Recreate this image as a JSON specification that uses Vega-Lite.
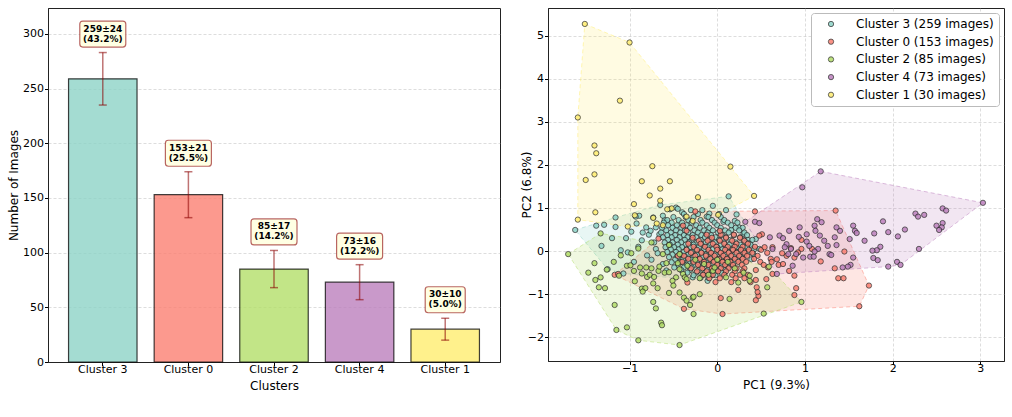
{
  "$schema": "https://vega.github.io/schema/vega-lite/v6.json",
  "padding": {"left": 6, "top": 7, "right": 8, "bottom": 5},
  "spacing": 18,
  "config": {
    "font": "DejaVu Sans",
    "view": {"stroke": "#222", "strokeWidth": 1},
    "axis": {
      "labelFont": "DejaVu Sans", "labelFontSize": 11, "labelColor": "#000",
      "titleFont": "DejaVu Sans", "titleFontSize": 12, "titleFontWeight": "normal", "titleColor": "#000",
      "tickColor": "#000", "tickSize": 3.5, "labelPadding": 1, "domainColor": "#222",
      "gridColor": "#b0b0b0", "gridOpacity": 0.55, "gridDash": [3, 2], "gridWidth": 0.8
    },
    "axisX": {"labelPadding": -2, "titlePadding": 6}
  },
  "resolve": {"scale": {"fill": "independent", "stroke": "independent", "color": "independent", "x": "independent", "y": "independent"}},
  "datasets": {
    "bars": [
      {"cluster": "Cluster 3", "count": 259, "err": 24, "label": ["259±24", "(43.2%)"]},
      {"cluster": "Cluster 0", "count": 153, "err": 21, "label": ["153±21", "(25.5%)"]},
      {"cluster": "Cluster 2", "count": 85, "err": 17, "label": ["85±17", "(14.2%)"]},
      {"cluster": "Cluster 4", "count": 73, "err": 16, "label": ["73±16", "(12.2%)"]},
      {"cluster": "Cluster 1", "count": 30, "err": 10, "label": ["30±10", "(5.0%)"]}
    ],
    "hulls": [
      {"grp": "hull 3", "i": 0, "x": -1.62, "y": 0.49}, {"grp": "hull 3", "i": 1, "x": -1.16, "y": 0.78}, {"grp": "hull 3", "i": 2, "x": -0.65, "y": 1.07}, {"grp": "hull 3", "i": 3, "x": 0.13, "y": 1.27}, {"grp": "hull 3", "i": 4, "x": 0.44, "y": 0.28}, {"grp": "hull 3", "i": 5, "x": 0.48, "y": 0.05}, {"grp": "hull 3", "i": 6, "x": 0.39, "y": -0.19}, {"grp": "hull 3", "i": 7, "x": -0.11, "y": -0.69}, {"grp": "hull 3", "i": 8, "x": -1.07, "y": -0.52}, {"grp": "hull 3", "i": 9, "x": -1.25, "y": -0.42},
      {"grp": "hull 0", "i": 0, "x": -1.17, "y": -0.55}, {"grp": "hull 0", "i": 1, "x": -0.67, "y": 0.29}, {"grp": "hull 0", "i": 2, "x": -0.25, "y": 0.92}, {"grp": "hull 0", "i": 3, "x": 1.35, "y": 0.94}, {"grp": "hull 0", "i": 4, "x": 1.73, "y": -0.80}, {"grp": "hull 0", "i": 5, "x": 1.62, "y": -1.28}, {"grp": "hull 0", "i": 6, "x": 0.06, "y": -1.46}, {"grp": "hull 0", "i": 7, "x": -0.38, "y": -1.34},
      {"grp": "hull 2", "i": 0, "x": -1.70, "y": -0.07}, {"grp": "hull 2", "i": 1, "x": -1.33, "y": 0.41}, {"grp": "hull 2", "i": 2, "x": -0.55, "y": 0.14}, {"grp": "hull 2", "i": 3, "x": 0.59, "y": -0.36}, {"grp": "hull 2", "i": 4, "x": 0.96, "y": -1.18}, {"grp": "hull 2", "i": 5, "x": -0.43, "y": -2.18}, {"grp": "hull 2", "i": 6, "x": -0.90, "y": -2.07}, {"grp": "hull 2", "i": 7, "x": -1.15, "y": -1.83},
      {"grp": "hull 4", "i": 0, "x": 1.18, "y": 1.85}, {"grp": "hull 4", "i": 1, "x": 3.03, "y": 1.12}, {"grp": "hull 4", "i": 2, "x": 2.09, "y": -0.32}, {"grp": "hull 4", "i": 3, "x": 1.95, "y": -0.36}, {"grp": "hull 4", "i": 4, "x": 0.68, "y": -0.53}, {"grp": "hull 4", "i": 5, "x": 0.32, "y": 0.68},
      {"grp": "hull 1", "i": 0, "x": -1.51, "y": 5.27}, {"grp": "hull 1", "i": 1, "x": -1.00, "y": 4.84}, {"grp": "hull 1", "i": 2, "x": 0.42, "y": 1.28}, {"grp": "hull 1", "i": 3, "x": 0.01, "y": 0.84}, {"grp": "hull 1", "i": 4, "x": -0.28, "y": 0.70}, {"grp": "hull 1", "i": 5, "x": -0.62, "y": 0.60}, {"grp": "hull 1", "i": 6, "x": -1.02, "y": 0.57}, {"grp": "hull 1", "i": 7, "x": -1.59, "y": 0.73}, {"grp": "hull 1", "i": 8, "x": -1.59, "y": 3.10}
    ],
    "pts": [
      {"k":"3","x":-1.62,"y":0.49},{"k":"3","x":-1.16,"y":0.78},{"k":"3","x":-0.65,"y":1.07},{"k":"3","x":0.13,"y":1.27},{"k":"3","x":0.44,"y":0.28},{"k":"3","x":0.48,"y":0.05},{"k":"3","x":0.39,"y":-0.19},{"k":"3","x":-0.11,"y":-0.69},{"k":"3","x":-1.07,"y":-0.52},{"k":"3","x":-1.25,"y":-0.42},
      {"k":"3","x":-1.38,"y":0.59},{"k":"3","x":-1.29,"y":0.61},{"k":"3","x":-1.32,"y":0.12},{"k":"3","x":-1.16,"y":0.56},{"k":"3","x":-1.04,"y":0.30},{"k":"3","x":-1.02,"y":-0.03},{"k":"3","x":-0.92,"y":0.64},{"k":"3","x":-0.73,"y":0.78},{"k":"3","x":-0.85,"y":0.43},{"k":"3","x":-0.66,"y":0.39},
      {"k":"3","x":-0.54,"y":0.97},{"k":"3","x":-0.47,"y":1.01},{"k":"3","x":-0.45,"y":0.98},{"k":"3","x":-0.89,"y":0.82},{"k":"3","x":-0.93,"y":0.80},{"k":"3","x":-0.98,"y":0.45},{"k":"3","x":-0.78,"y":0.38},{"k":"3","x":-0.76,"y":0.47},{"k":"3","x":-0.81,"y":0.55},{"k":"3","x":-0.17,"y":0.95},
      {"k":"3","x":-0.30,"y":0.95},{"k":"3","x":-0.09,"y":0.87},{"k":"3","x":0.07,"y":0.68},{"k":"3","x":0.16,"y":0.49},{"k":"3","x":0.35,"y":0.26},{"k":"3","x":0.37,"y":0.18},{"k":"3","x":0.41,"y":-0.07},{"k":"3","x":-0.28,"y":-0.61},{"k":"3","x":-0.62,"y":-0.30},{"k":"3","x":0.20,"y":0.70},
      {"k":"3","x":0.25,"y":0.55},{"k":"3","x":-0.90,"y":0.10},{"k":"3","x":-0.70,"y":0.55},{"k":"3","x":-0.60,"y":0.72},{"k":"3","x":-0.62,"y":0.82},{"k":"3","x":-1.20,"y":0.30},{"k":"3","x":-0.95,"y":-0.25},{"k":"3","x":-0.80,"y":-0.10},{"k":"3","x":-0.70,"y":0.05},{"k":"3","x":-0.72,"y":0.20},
      {"k":"3","x":-1.10,"y":0.02},{"k":"3","x":-0.86,"y":0.25},{"k":"3","x":-0.40,"y":0.90},{"k":"3","x":-0.12,"y":0.80},{"k":"3","x":0.10,"y":0.95},{"k":"3","x":-0.05,"y":1.05},{"k":"3","x":0.30,"y":0.40},{"k":"3","x":-0.75,"y":-0.20},{"k":"3","x":-0.58,"y":-0.45},{"k":"3","x":-0.68,"y":-0.05},{"k":"3","x":0.22,"y":0.85},
      {"k":"3","x":-0.38,"y":0.86},{"k":"3","x":-0.22,"y":0.86},{"k":"3","x":0.02,"y":0.86},
      {"k":"3","x":-0.50,"y":0.79},{"k":"3","x":-0.36,"y":0.79},{"k":"3","x":-0.27,"y":0.79},{"k":"3","x":-0.10,"y":0.79},{"k":"3","x":0.04,"y":0.79},
      {"k":"3","x":-0.57,"y":0.72},{"k":"3","x":-0.44,"y":0.72},{"k":"3","x":-0.33,"y":0.72},{"k":"3","x":-0.19,"y":0.72},{"k":"3","x":-0.06,"y":0.72},{"k":"3","x":0.08,"y":0.72},
      {"k":"3","x":-0.61,"y":0.66},{"k":"3","x":-0.52,"y":0.66},{"k":"3","x":-0.40,"y":0.66},{"k":"3","x":-0.29,"y":0.66},{"k":"3","x":-0.17,"y":0.66},{"k":"3","x":-0.03,"y":0.66},{"k":"3","x":0.12,"y":0.66},{"k":"3","x":0.23,"y":0.66},
      {"k":"3","x":-0.56,"y":0.60},{"k":"3","x":-0.46,"y":0.60},{"k":"3","x":-0.35,"y":0.60},{"k":"3","x":-0.24,"y":0.60},{"k":"3","x":-0.12,"y":0.60},{"k":"3","x":0.00,"y":0.60},{"k":"3","x":0.16,"y":0.60},
      {"k":"3","x":-0.63,"y":0.54},{"k":"3","x":-0.51,"y":0.54},{"k":"3","x":-0.41,"y":0.54},{"k":"3","x":-0.31,"y":0.54},{"k":"3","x":-0.20,"y":0.54},{"k":"3","x":-0.09,"y":0.54},{"k":"3","x":0.04,"y":0.54},{"k":"3","x":0.21,"y":0.54},{"k":"3","x":0.29,"y":0.54},
      {"k":"3","x":-0.58,"y":0.48},{"k":"3","x":-0.47,"y":0.48},{"k":"3","x":-0.37,"y":0.48},{"k":"3","x":-0.26,"y":0.48},{"k":"3","x":-0.15,"y":0.48},{"k":"3","x":-0.05,"y":0.48},{"k":"3","x":0.09,"y":0.48},{"k":"3","x":0.25,"y":0.48},
      {"k":"3","x":-0.64,"y":0.43},{"k":"3","x":-0.53,"y":0.43},{"k":"3","x":-0.42,"y":0.43},{"k":"3","x":-0.33,"y":0.43},{"k":"3","x":-0.22,"y":0.43},{"k":"3","x":-0.11,"y":0.43},{"k":"3","x":0.01,"y":0.43},{"k":"3","x":0.13,"y":0.43},{"k":"3","x":0.31,"y":0.43},
      {"k":"3","x":-0.57,"y":0.37},{"k":"3","x":-0.48,"y":0.37},{"k":"3","x":-0.38,"y":0.37},{"k":"3","x":-0.28,"y":0.37},{"k":"3","x":-0.18,"y":0.37},{"k":"3","x":-0.07,"y":0.37},{"k":"3","x":0.06,"y":0.37},{"k":"3","x":0.19,"y":0.37},{"k":"3","x":0.34,"y":0.37},
      {"k":"3","x":-0.62,"y":0.32},{"k":"3","x":-0.52,"y":0.32},{"k":"3","x":-0.43,"y":0.32},{"k":"3","x":-0.34,"y":0.32},{"k":"3","x":-0.24,"y":0.32},{"k":"3","x":-0.14,"y":0.32},{"k":"3","x":-0.02,"y":0.32},{"k":"3","x":0.10,"y":0.32},{"k":"3","x":0.26,"y":0.32},
      {"k":"3","x":-0.56,"y":0.26},{"k":"3","x":-0.46,"y":0.26},{"k":"3","x":-0.37,"y":0.26},{"k":"3","x":-0.29,"y":0.26},{"k":"3","x":-0.19,"y":0.26},{"k":"3","x":-0.09,"y":0.26},{"k":"3","x":0.02,"y":0.26},{"k":"3","x":0.15,"y":0.26},{"k":"3","x":0.30,"y":0.26},{"k":"3","x":0.40,"y":0.26},
      {"k":"3","x":-0.60,"y":0.20},{"k":"3","x":-0.51,"y":0.20},{"k":"3","x":-0.41,"y":0.20},{"k":"3","x":-0.32,"y":0.20},{"k":"3","x":-0.23,"y":0.20},{"k":"3","x":-0.13,"y":0.20},{"k":"3","x":-0.03,"y":0.20},{"k":"3","x":0.08,"y":0.20},{"k":"3","x":0.21,"y":0.20},{"k":"3","x":0.33,"y":0.20},
      {"k":"3","x":-0.54,"y":0.15},{"k":"3","x":-0.45,"y":0.15},{"k":"3","x":-0.36,"y":0.15},{"k":"3","x":-0.27,"y":0.15},{"k":"3","x":-0.18,"y":0.15},{"k":"3","x":-0.08,"y":0.15},{"k":"3","x":0.04,"y":0.15},{"k":"3","x":0.14,"y":0.15},{"k":"3","x":0.26,"y":0.15},{"k":"3","x":0.38,"y":0.15},
      {"k":"3","x":-0.59,"y":0.09},{"k":"3","x":-0.49,"y":0.09},{"k":"3","x":-0.40,"y":0.09},{"k":"3","x":-0.31,"y":0.09},{"k":"3","x":-0.21,"y":0.09},{"k":"3","x":-0.11,"y":0.09},{"k":"3","x":0.00,"y":0.09},{"k":"3","x":0.10,"y":0.09},{"k":"3","x":0.22,"y":0.09},{"k":"3","x":0.34,"y":0.09},
      {"k":"3","x":-0.53,"y":0.04},{"k":"3","x":-0.44,"y":0.04},{"k":"3","x":-0.35,"y":0.04},{"k":"3","x":-0.25,"y":0.04},{"k":"3","x":-0.15,"y":0.04},{"k":"3","x":-0.05,"y":0.04},{"k":"3","x":0.06,"y":0.04},{"k":"3","x":0.17,"y":0.04},{"k":"3","x":0.29,"y":0.04},{"k":"3","x":0.42,"y":0.04},
      {"k":"3","x":-0.57,"y":-0.02},{"k":"3","x":-0.47,"y":-0.02},{"k":"3","x":-0.38,"y":-0.02},{"k":"3","x":-0.29,"y":-0.02},{"k":"3","x":-0.19,"y":-0.02},{"k":"3","x":-0.09,"y":-0.02},{"k":"3","x":0.02,"y":-0.02},{"k":"3","x":0.13,"y":-0.02},{"k":"3","x":0.24,"y":-0.02},{"k":"3","x":0.36,"y":-0.02},
      {"k":"3","x":-0.51,"y":-0.08},{"k":"3","x":-0.42,"y":-0.08},{"k":"3","x":-0.33,"y":-0.08},{"k":"3","x":-0.23,"y":-0.08},{"k":"3","x":-0.13,"y":-0.08},{"k":"3","x":-0.02,"y":-0.08},{"k":"3","x":0.09,"y":-0.08},{"k":"3","x":0.20,"y":-0.08},{"k":"3","x":0.31,"y":-0.08},
      {"k":"3","x":-0.55,"y":-0.14},{"k":"3","x":-0.45,"y":-0.14},{"k":"3","x":-0.36,"y":-0.14},{"k":"3","x":-0.27,"y":-0.14},{"k":"3","x":-0.17,"y":-0.14},{"k":"3","x":-0.06,"y":-0.14},{"k":"3","x":0.05,"y":-0.14},{"k":"3","x":0.16,"y":-0.14},{"k":"3","x":0.27,"y":-0.14},
      {"k":"3","x":-0.48,"y":-0.20},{"k":"3","x":-0.39,"y":-0.20},{"k":"3","x":-0.30,"y":-0.20},{"k":"3","x":-0.20,"y":-0.20},{"k":"3","x":-0.10,"y":-0.20},{"k":"3","x":0.01,"y":-0.20},{"k":"3","x":0.12,"y":-0.20},{"k":"3","x":0.23,"y":-0.20},
      {"k":"3","x":-0.52,"y":-0.26},{"k":"3","x":-0.42,"y":-0.26},{"k":"3","x":-0.33,"y":-0.26},{"k":"3","x":-0.23,"y":-0.26},{"k":"3","x":-0.13,"y":-0.26},{"k":"3","x":-0.03,"y":-0.26},{"k":"3","x":0.08,"y":-0.26},{"k":"3","x":0.19,"y":-0.26},
      {"k":"3","x":-0.45,"y":-0.32},{"k":"3","x":-0.35,"y":-0.32},{"k":"3","x":-0.26,"y":-0.32},{"k":"3","x":-0.16,"y":-0.32},{"k":"3","x":-0.06,"y":-0.32},{"k":"3","x":0.05,"y":-0.32},{"k":"3","x":0.15,"y":-0.32},
      {"k":"3","x":-0.49,"y":-0.38},{"k":"3","x":-0.38,"y":-0.38},{"k":"3","x":-0.29,"y":-0.38},{"k":"3","x":-0.19,"y":-0.38},{"k":"3","x":-0.09,"y":-0.38},{"k":"3","x":0.02,"y":-0.38},{"k":"3","x":0.12,"y":-0.38},
      {"k":"3","x":-0.41,"y":-0.44},{"k":"3","x":-0.31,"y":-0.44},{"k":"3","x":-0.21,"y":-0.44},{"k":"3","x":-0.11,"y":-0.44},{"k":"3","x":-0.01,"y":-0.44},{"k":"3","x":0.09,"y":-0.44},
      {"k":"3","x":-0.34,"y":-0.50},{"k":"3","x":-0.24,"y":-0.50},{"k":"3","x":-0.14,"y":-0.50},{"k":"3","x":-0.04,"y":-0.50},{"k":"3","x":0.05,"y":-0.50},
      {"k":"3","x":-0.27,"y":-0.56},{"k":"3","x":-0.17,"y":-0.56},{"k":"3","x":-0.07,"y":-0.56},{"k":"3","x":-0.02,"y":-0.56},
      {"k":"3","x":-0.19,"y":-0.62},{"k":"3","x":-0.10,"y":-0.62},

      {"k":"0","x":-0.12,"y":0.38},{"k":"0","x":0.04,"y":0.38},{"k":"0","x":0.19,"y":0.38},
      {"k":"0","x":-0.28,"y":0.31},{"k":"0","x":-0.06,"y":0.31},{"k":"0","x":0.10,"y":0.31},{"k":"0","x":0.26,"y":0.31},
      {"k":"0","x":-0.21,"y":0.24},{"k":"0","x":-0.11,"y":0.24},{"k":"0","x":0.03,"y":0.24},{"k":"0","x":0.17,"y":0.24},{"k":"0","x":0.31,"y":0.24},
      {"k":"0","x":-0.33,"y":0.17},{"k":"0","x":-0.19,"y":0.17},{"k":"0","x":-0.05,"y":0.17},{"k":"0","x":0.08,"y":0.17},{"k":"0","x":0.22,"y":0.17},{"k":"0","x":0.35,"y":0.17},
      {"k":"0","x":-0.27,"y":0.10},{"k":"0","x":-0.14,"y":0.10},{"k":"0","x":-0.01,"y":0.10},{"k":"0","x":0.12,"y":0.10},{"k":"0","x":0.20,"y":0.10},{"k":"0","x":0.29,"y":0.10},{"k":"0","x":0.43,"y":0.10},
      {"k":"0","x":-0.35,"y":0.03},{"k":"0","x":-0.23,"y":0.03},{"k":"0","x":-0.10,"y":0.03},{"k":"0","x":0.00,"y":0.03},{"k":"0","x":0.09,"y":0.03},{"k":"0","x":0.18,"y":0.03},{"k":"0","x":0.27,"y":0.03},{"k":"0","x":0.36,"y":0.03},{"k":"0","x":0.50,"y":0.03},
      {"k":"0","x":-0.30,"y":-0.04},{"k":"0","x":-0.18,"y":-0.04},{"k":"0","x":-0.07,"y":-0.04},{"k":"0","x":0.04,"y":-0.04},{"k":"0","x":0.13,"y":-0.04},{"k":"0","x":0.22,"y":-0.04},{"k":"0","x":0.31,"y":-0.04},{"k":"0","x":0.40,"y":-0.04},{"k":"0","x":0.57,"y":-0.04},
      {"k":"0","x":-0.38,"y":-0.11},{"k":"0","x":-0.25,"y":-0.11},{"k":"0","x":-0.13,"y":-0.11},{"k":"0","x":-0.03,"y":-0.11},{"k":"0","x":0.07,"y":-0.11},{"k":"0","x":0.16,"y":-0.11},{"k":"0","x":0.25,"y":-0.11},{"k":"0","x":0.34,"y":-0.11},{"k":"0","x":0.46,"y":-0.11},
      {"k":"0","x":-0.33,"y":-0.18},{"k":"0","x":-0.20,"y":-0.18},{"k":"0","x":-0.08,"y":-0.18},{"k":"0","x":0.02,"y":-0.18},{"k":"0","x":0.11,"y":-0.18},{"k":"0","x":0.20,"y":-0.18},{"k":"0","x":0.29,"y":-0.18},{"k":"0","x":0.42,"y":-0.18},{"k":"0","x":0.61,"y":-0.18},
      {"k":"0","x":-0.40,"y":-0.25},{"k":"0","x":-0.27,"y":-0.25},{"k":"0","x":-0.15,"y":-0.25},{"k":"0","x":-0.04,"y":-0.25},{"k":"0","x":0.06,"y":-0.25},{"k":"0","x":0.15,"y":-0.25},{"k":"0","x":0.24,"y":-0.25},{"k":"0","x":0.33,"y":-0.25},{"k":"0","x":0.49,"y":-0.25},
      {"k":"0","x":-0.22,"y":-0.32},{"k":"0","x":-0.10,"y":-0.32},{"k":"0","x":0.00,"y":-0.32},{"k":"0","x":0.09,"y":-0.32},{"k":"0","x":0.18,"y":-0.32},{"k":"0","x":0.28,"y":-0.32},{"k":"0","x":0.53,"y":-0.32},
      {"k":"0","x":-0.30,"y":-0.40},{"k":"0","x":-0.17,"y":-0.40},{"k":"0","x":-0.06,"y":-0.40},{"k":"0","x":0.04,"y":-0.40},{"k":"0","x":0.13,"y":-0.40},{"k":"0","x":0.22,"y":-0.40},{"k":"0","x":0.31,"y":-0.40},
      {"k":"0","x":-0.23,"y":-0.47},{"k":"0","x":-0.12,"y":-0.47},{"k":"0","x":0.01,"y":-0.47},{"k":"0","x":0.10,"y":-0.47},{"k":"0","x":0.20,"y":-0.47},{"k":"0","x":0.29,"y":-0.47},
      {"k":"0","x":-0.16,"y":-0.55},{"k":"0","x":-0.05,"y":-0.55},{"k":"0","x":0.08,"y":-0.55},{"k":"0","x":0.17,"y":-0.55},{"k":"0","x":0.26,"y":-0.55},{"k":"0","x":0.35,"y":-0.55},
      {"k":"0","x":-0.09,"y":-0.63},{"k":"0","x":0.03,"y":-0.63},{"k":"0","x":0.21,"y":-0.63},{"k":"0","x":0.31,"y":-0.63},
      {"k":"0","x":-0.02,"y":-0.72},{"k":"0","x":0.16,"y":-0.72},{"k":"0","x":0.38,"y":-0.72},
      {"k":"0","x":1.35,"y":0.94},{"k":"0","x":0.43,"y":0.92},{"k":"0","x":1.73,"y":-0.80},{"k":"0","x":1.62,"y":-1.28},{"k":"0","x":1.45,"y":-0.01},{"k":"0","x":1.38,"y":-0.63},{"k":"0","x":1.44,"y":-0.63},{"k":"0","x":1.34,"y":-0.40},{"k":"0","x":1.18,"y":-0.24},{"k":"0","x":0.96,"y":0.26},
      {"k":"0","x":0.90,"y":-0.86},{"k":"0","x":0.88,"y":-1.02},{"k":"0","x":0.84,"y":0.07},{"k":"0","x":0.96,"y":0.05},{"k":"0","x":1.08,"y":0.05},{"k":"0","x":0.68,"y":-0.19},{"k":"0","x":0.70,"y":-0.32},{"k":"0","x":0.58,"y":-0.38},{"k":"0","x":0.44,"y":-0.67},{"k":"0","x":0.47,"y":-1.04},
      {"k":"0","x":0.46,"y":-0.95},{"k":"0","x":0.45,"y":-0.84},{"k":"0","x":0.44,"y":-0.44},{"k":"0","x":0.24,"y":-0.90},{"k":"0","x":0.04,"y":-1.09},{"k":"0","x":0.06,"y":-1.46},{"k":"0","x":-0.38,"y":-1.34},{"k":"0","x":-0.25,"y":0.92},{"k":"0","x":-0.67,"y":0.29},{"k":"0","x":-1.17,"y":-0.55},
      {"k":"0","x":-1.13,"y":-0.53},{"k":"0","x":0.03,"y":0.47},{"k":"0","x":0.63,"y":0.09},{"k":"0","x":0.54,"y":0.09},{"k":"0","x":0.51,"y":0.39},{"k":"0","x":0.48,"y":0.36},{"k":"0","x":-0.39,"y":0.59},{"k":"0","x":-0.35,"y":0.47},{"k":"0","x":0.79,"y":-0.11},{"k":"0","x":0.88,"y":-0.15},
      {"k":"0","x":0.92,"y":-0.03},{"k":"0","x":0.74,"y":-0.05},{"k":"0","x":0.82,"y":-0.46},{"k":"0","x":0.88,"y":-0.57},{"k":"0","x":0.75,"y":-0.30},{"k":"0","x":0.63,"y":-0.53},{"k":"0","x":0.56,"y":-0.65},{"k":"0","x":0.62,"y":-0.25},{"k":"0","x":0.44,"y":-1.14},{"k":"0","x":-0.45,"y":-0.11},
      {"k":"0","x":-0.34,"y":-0.73},

      {"k":"2","x":-1.70,"y":-0.07},{"k":"2","x":-1.40,"y":-0.28},{"k":"2","x":-1.47,"y":-0.50},{"k":"2","x":-1.39,"y":-0.67},{"k":"2","x":-1.33,"y":-0.61},{"k":"2","x":-1.35,"y":-0.84},{"k":"2","x":-1.28,"y":-0.86},{"k":"2","x":-1.17,"y":-1.25},{"k":"2","x":-1.15,"y":-1.83},{"k":"2","x":-1.03,"y":-1.77},
      {"k":"2","x":-0.90,"y":-2.07},{"k":"2","x":-0.43,"y":-2.18},{"k":"2","x":-1.18,"y":-0.25},{"k":"2","x":-1.03,"y":-0.34},{"k":"2","x":-0.99,"y":-0.33},{"k":"2","x":-0.90,"y":0.06},{"k":"2","x":-0.95,"y":-0.46},{"k":"2","x":-0.88,"y":-0.38},{"k":"2","x":-0.94,"y":-0.70},{"k":"2","x":-0.86,"y":-0.87},
      {"k":"2","x":-0.82,"y":-0.86},{"k":"2","x":-0.85,"y":-0.94},{"k":"2","x":-0.80,"y":-0.60},{"k":"2","x":-0.73,"y":-1.18},{"k":"2","x":-0.70,"y":-1.33},{"k":"2","x":-0.64,"y":-1.66},{"k":"2","x":-0.63,"y":-1.72},{"k":"2","x":-0.73,"y":-0.75},{"k":"2","x":-0.77,"y":-0.55},{"k":"2","x":-0.72,"y":-0.60},
      {"k":"2","x":-0.67,"y":-0.46},{"k":"2","x":-0.58,"y":-0.28},{"k":"2","x":-0.55,"y":-0.97},{"k":"2","x":-0.43,"y":-0.96},{"k":"2","x":-0.38,"y":-1.08},{"k":"2","x":-0.35,"y":-1.15},{"k":"2","x":-0.31,"y":-1.25},{"k":"2","x":-0.27,"y":-1.46},{"k":"2","x":-1.33,"y":0.41},{"k":"2","x":-1.12,"y":-0.57},
      {"k":"2","x":-1.26,"y":-0.43},{"k":"2","x":0.59,"y":-0.36},{"k":"2","x":0.57,"y":-0.84},{"k":"2","x":0.96,"y":-1.18},{"k":"2","x":0.14,"y":-1.11},{"k":"2","x":0.24,"y":-0.73},{"k":"2","x":0.37,"y":-0.69},{"k":"2","x":0.10,"y":-0.61},{"k":"2","x":0.53,"y":-1.45},{"k":"2","x":-0.28,"y":-1.08},
      {"k":"2","x":-0.05,"y":-0.46},{"k":"2","x":-0.43,"y":-0.07},{"k":"2","x":-0.34,"y":-0.34},{"k":"2","x":-0.39,"y":-0.53},{"k":"2","x":0.37,"y":-0.57},{"k":"2","x":-0.75,"y":0.20},{"k":"2","x":-0.55,"y":0.14},{"k":"2","x":-0.81,"y":-0.38},{"k":"2","x":-0.86,"y":-0.52},{"k":"2","x":-0.66,"y":-0.36},
      {"k":"2","x":-0.60,"y":-0.50},{"k":"2","x":-0.47,"y":-0.61},{"k":"2","x":-0.37,"y":-0.61},{"k":"2","x":-0.43,"y":-0.42},{"k":"2","x":-0.20,"y":-0.63},{"k":"2","x":-0.35,"y":-0.65},{"k":"2","x":-0.51,"y":-0.69},{"k":"2","x":-0.20,"y":-1.00},{"k":"2","x":-0.27,"y":-1.06},{"k":"2","x":-0.55,"y":-0.49},
      {"k":"2","x":-0.62,"y":-0.07},{"k":"2","x":-0.75,"y":-0.40},{"k":"2","x":-0.68,"y":-0.86},{"k":"2","x":-0.50,"y":-0.80},{"k":"2","x":-0.15,"y":-0.30},{"k":"2","x":0.00,"y":-0.20},{"k":"2","x":0.20,"y":-0.40},{"k":"2","x":-0.25,"y":-0.20},{"k":"2","x":0.30,"y":-0.50},{"k":"2","x":-0.10,"y":-0.55},
      {"k":"2","x":-1.10,"y":-0.10},{"k":"2","x":-0.98,"y":-0.05},{"k":"2","x":-0.03,"y":-0.38},{"k":"2","x":0.12,"y":-0.25},{"k":"2","x":-0.45,"y":-0.28},

      {"k":"4","x":1.18,"y":1.85},{"k":"4","x":0.97,"y":1.48},{"k":"4","x":3.03,"y":1.12},{"k":"4","x":2.57,"y":0.99},{"k":"4","x":2.61,"y":0.94},{"k":"4","x":2.26,"y":0.87},{"k":"4","x":2.29,"y":0.80},{"k":"4","x":2.36,"y":0.84},{"k":"4","x":1.89,"y":0.69},{"k":"4","x":1.55,"y":0.59},
      {"k":"4","x":1.57,"y":0.47},{"k":"4","x":1.59,"y":0.42},{"k":"4","x":2.14,"y":0.50},{"k":"4","x":1.79,"y":0.41},{"k":"4","x":1.95,"y":0.44},{"k":"4","x":2.06,"y":0.34},{"k":"4","x":2.50,"y":0.59},{"k":"4","x":2.57,"y":0.65},{"k":"4","x":2.56,"y":0.55},{"k":"4","x":2.53,"y":0.49},
      {"k":"4","x":1.68,"y":0.24},{"k":"4","x":1.51,"y":0.28},{"k":"4","x":1.86,"y":0.10},{"k":"4","x":1.82,"y":0.02},{"k":"4","x":1.77,"y":0.01},{"k":"4","x":1.78,"y":-0.16},{"k":"4","x":1.83,"y":-0.21},{"k":"4","x":2.30,"y":0.05},{"k":"4","x":1.95,"y":-0.36},{"k":"4","x":2.05,"y":-0.25},
      {"k":"4","x":2.09,"y":-0.32},{"k":"4","x":1.52,"y":-0.32},{"k":"4","x":1.49,"y":-0.36},{"k":"4","x":1.43,"y":-0.38},{"k":"4","x":1.40,"y":0.47},{"k":"4","x":1.36,"y":0.55},{"k":"4","x":1.34,"y":0.32},{"k":"4","x":1.36,"y":0.14},{"k":"4","x":1.14,"y":0.74},{"k":"4","x":1.11,"y":0.59},
      {"k":"4","x":1.12,"y":0.47},{"k":"4","x":1.17,"y":0.36},{"k":"4","x":1.28,"y":-0.07},{"k":"4","x":1.30,"y":-0.09},{"k":"4","x":1.15,"y":0.05},{"k":"4","x":1.06,"y":-0.13},{"k":"4","x":1.10,"y":-0.13},{"k":"4","x":1.11,"y":-0.01},{"k":"4","x":1.02,"y":0.22},{"k":"4","x":1.02,"y":0.39},
      {"k":"4","x":0.94,"y":0.55},{"k":"4","x":0.82,"y":0.47},{"k":"4","x":0.60,"y":0.32},{"k":"4","x":0.71,"y":0.36},{"k":"4","x":0.75,"y":0.30},{"k":"4","x":0.79,"y":0.16},{"k":"4","x":0.77,"y":0.09},{"k":"4","x":0.84,"y":0.05},{"k":"4","x":0.81,"y":-0.07},{"k":"4","x":0.86,"y":-0.34},
      {"k":"4","x":0.68,"y":-0.53},{"k":"4","x":0.43,"y":0.68},{"k":"4","x":0.48,"y":0.65},{"k":"4","x":0.32,"y":0.68},{"k":"4","x":0.93,"y":0.33},{"k":"4","x":0.98,"y":-0.15},{"k":"4","x":1.22,"y":0.24},{"k":"4","x":1.26,"y":0.12},{"k":"4","x":1.05,"y":0.12},{"k":"4","x":1.55,"y":-0.15},
      {"k":"4","x":0.90,"y":-0.07},{"k":"4","x":0.63,"y":0.05},{"k":"4","x":1.19,"y":0.67},

      {"k":"1","x":-1.51,"y":5.27},{"k":"1","x":-1.00,"y":4.84},{"k":"1","x":-1.11,"y":3.49},{"k":"1","x":-1.59,"y":3.10},{"k":"1","x":-1.40,"y":2.45},{"k":"1","x":-1.38,"y":2.27},{"k":"1","x":-0.74,"y":1.97},{"k":"1","x":0.15,"y":1.96},{"k":"1","x":-1.40,"y":1.78},{"k":"1","x":-1.50,"y":1.65},
      {"k":"1","x":-0.86,"y":1.62},{"k":"1","x":-0.54,"y":1.62},{"k":"1","x":-0.65,"y":1.45},{"k":"1","x":-0.77,"y":1.29},{"k":"1","x":0.42,"y":1.28},{"k":"1","x":-0.22,"y":1.25},{"k":"1","x":-0.65,"y":1.17},{"k":"1","x":-0.95,"y":1.09},{"k":"1","x":-1.39,"y":0.90},{"k":"1","x":-1.59,"y":0.73},
      {"k":"1","x":-0.94,"y":0.83},{"k":"1","x":-0.73,"y":0.77},{"k":"1","x":-0.52,"y":0.99},{"k":"1","x":-0.57,"y":0.97},{"k":"1","x":0.01,"y":0.84},{"k":"1","x":-0.69,"y":0.64},{"k":"1","x":-0.62,"y":0.60},{"k":"1","x":-0.35,"y":0.80},{"k":"1","x":-1.02,"y":0.57},{"k":"1","x":-0.28,"y":0.70}
    ]
  },
  "hconcat": [
    {
      "width": 452,
      "height": 354,
      "data": {"name": "bars"},
      "encoding": {
        "x": {
          "field": "cluster", "type": "nominal", "sort": null, "title": "Clusters",
          "scale": {"paddingInner": 0.2, "paddingOuter": 0.24},
          "axis": {"labelAngle": 0, "grid": false}
        }
      },
      "layer": [
        {
          "mark": {"type": "bar", "fillOpacity": 0.8, "stroke": "#000", "strokeOpacity": 0.75, "strokeWidth": 1.2},
          "encoding": {
            "y": {
              "field": "count", "type": "quantitative", "title": "Number of Images",
              "scale": {"domain": [0, 323.75], "nice": false},
              "axis": {"values": [0, 50, 100, 150, 200, 250, 300], "grid": true, "titlePadding": 2.3}
            },
            "fill": {
              "field": "cluster", "type": "nominal", "legend": null,
              "scale": {"domain": ["Cluster 3", "Cluster 0", "Cluster 2", "Cluster 4", "Cluster 1"], "range": ["#8dd3c7", "#fb8072", "#b3de69", "#bc80bd", "#ffed6f"]}
            }
          }
        },
        {
          "mark": {"type": "errorbar", "ticks": {"size": 8}, "color": "#8b0000", "opacity": 0.55, "thickness": 1.5},
          "encoding": {
            "y": {"field": "count", "type": "quantitative", "title": "Number of Images"},
            "yError": {"field": "err"}
          }
        },
        {
          "transform": [{"calculate": "datum.count + datum.err", "as": "top"}],
          "mark": {
            "type": "point", "filled": true, "fill": "#ffffe0", "fillOpacity": 0.9, "opacity": 1,
            "stroke": "#8b0000", "strokeOpacity": 0.6, "strokeWidth": 1.2, "size": 2116, "yOffset": -18.5
          },
          "encoding": {
            "y": {"field": "top", "type": "quantitative", "title": "Number of Images"},
            "shape": {
              "condition": {"test": "datum.count < 50", "value": "M-0.74,-0.565L0.74,-0.565Q0.87,-0.565 0.87,-0.435L0.87,0.435Q0.87,0.565 0.74,0.565L-0.74,0.565Q-0.87,0.565 -0.87,0.435L-0.87,-0.435Q-0.87,-0.565 -0.74,-0.565Z"},
              "value": "M-0.87,-0.565L0.87,-0.565Q1,-0.565 1,-0.435L1,0.435Q1,0.565 0.87,0.565L-0.87,0.565Q-1,0.565 -1,0.435L-1,-0.435Q-1,-0.565 -0.87,-0.565Z"
            }
          }
        },
        {
          "transform": [{"calculate": "datum.count + datum.err", "as": "top"}],
          "mark": {
            "type": "text", "font": "DejaVu Sans", "fontSize": 9, "fontWeight": "bold", "lineHeight": 10,
            "baseline": "middle", "align": "center", "color": "#000", "yOffset": -24
          },
          "encoding": {
            "y": {"field": "top", "type": "quantitative", "title": "Number of Images"},
            "text": {"field": "label"}
          }
        }
      ]
    },
    {
      "width": 456,
      "height": 353,
      "layer": [
        {
          "data": {"name": "hulls"},
          "mark": {"type": "line", "interpolate": "linear-closed", "fillOpacity": 0.2, "strokeOpacity": 0.5, "strokeDash": [4, 3], "strokeWidth": 1},
          "encoding": {
            "x": {
              "field": "x", "type": "quantitative", "title": "PC1 (9.3%)",
              "scale": {"domain": [-1.93, 3.27], "nice": false, "zero": false},
              "axis": {"values": [-1, 0, 1, 2, 3], "format": "d", "grid": true}
            },
            "y": {
              "field": "y", "type": "quantitative", "title": "PC2 (6.8%)",
              "scale": {"domain": [-2.55, 5.64], "nice": false, "zero": false},
              "axis": {"values": [-2, -1, 0, 1, 2, 3, 4, 5], "format": "d", "grid": true, "titlePadding": -6}
            },
            "order": {"field": "i", "type": "quantitative"},
            "fill": {
              "field": "grp", "type": "nominal", "legend": null,
              "scale": {"domain": ["hull 3", "hull 0", "hull 2", "hull 4", "hull 1"], "range": ["#8dd3c7", "#fb8072", "#b3de69", "#bc80bd", "#ffed6f"]}
            },
            "stroke": {
              "field": "grp", "type": "nominal", "legend": null,
              "scale": {"domain": ["hull 3", "hull 0", "hull 2", "hull 4", "hull 1"], "range": ["#8dd3c7", "#fb8072", "#b3de69", "#bc80bd", "#ffed6f"]}
            }
          }
        },
        {
          "data": {"name": "pts"},
          "mark": {"type": "point", "filled": true, "shape": "circle", "size": 28, "stroke": "#222", "strokeWidth": 0.8, "opacity": 0.85},
          "encoding": {
            "x": {"field": "x", "type": "quantitative"},
            "y": {"field": "y", "type": "quantitative"},
            "color": {
              "field": "k", "type": "nominal", "title": null,
              "scale": {"domain": ["3", "0", "2", "4", "1"], "range": ["#8dd3c7", "#fb8072", "#b3de69", "#bc80bd", "#ffed6f"]},
              "legend": {
                "orient": "top-right", "offset": 5, "fillColor": "white", "strokeColor": "#bbb", "cornerRadius": 3,
                "padding": 5, "labelFont": "DejaVu Sans", "labelFontSize": 12, "labelColor": "#000", "labelLimit": 300,
                "symbolType": "circle", "symbolSize": 28, "symbolStrokeColor": "#222", "symbolStrokeWidth": 0.8, "symbolOpacity": 0.85,
                "symbolOffset": 9, "labelOffset": 19, "rowPadding": 5.7,
                "labelExpr": "datum.label == '3' ? 'Cluster 3 (259 images)' : datum.label == '0' ? 'Cluster 0 (153 images)' : datum.label == '2' ? 'Cluster 2 (85 images)' : datum.label == '4' ? 'Cluster 4 (73 images)' : 'Cluster 1 (30 images)'"
              }
            }
          }
        }
      ]
    }
  ]
}
